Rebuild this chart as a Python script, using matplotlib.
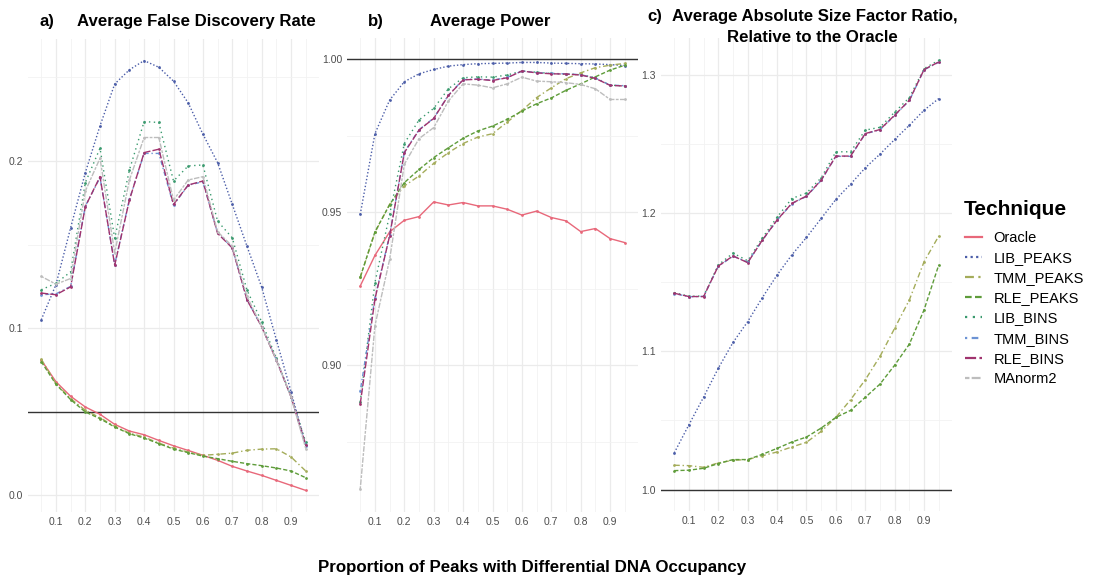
import matplotlib
matplotlib.use("Agg")
import matplotlib.pyplot as plt
from matplotlib.lines import Line2D
from matplotlib.ticker import MultipleLocator

plt.rcParams['font.family'] = ['Liberation Sans', 'DejaVu Sans']

# x values: proportion of peaks with differential occupancy
proportion = [0.05, 0.10, 0.15, 0.20, 0.25, 0.30, 0.35, 0.40, 0.45, 0.50,
              0.55, 0.60, 0.65, 0.70, 0.75, 0.80, 0.85, 0.90, 0.95]

techniques = ['Oracle', 'LIB_PEAKS', 'TMM_PEAKS', 'RLE_PEAKS',
              'LIB_BINS', 'TMM_BINS', 'RLE_BINS', 'MAnorm2']

# a) average false discovery rate
fdr_oracle = [0.081, 0.068, 0.0593, 0.0529, 0.0485, 0.0425, 0.0385, 0.0363, 0.0329, 0.0297,
              0.0269, 0.024, 0.021, 0.0174, 0.0146, 0.012, 0.009, 0.006, 0.003]
fdr_lib_peaks = [0.105, 0.126, 0.160, 0.193, 0.221, 0.246, 0.2545, 0.260, 0.256, 0.2477,
                 0.2347, 0.216, 0.199, 0.174, 0.149, 0.1245, 0.093, 0.062, 0.030]
fdr_tmm_peaks = [0.0815, 0.0669, 0.0579, 0.0509, 0.0465, 0.0413, 0.0373, 0.0349, 0.0313, 0.0283,
                 0.0259, 0.024, 0.0246, 0.0253, 0.027, 0.0277, 0.0279, 0.023, 0.0146]
fdr_rle_peaks = [0.080, 0.0665, 0.0573, 0.0499, 0.0459, 0.0409, 0.0369, 0.0343, 0.031, 0.0277,
                 0.0256, 0.0235, 0.022, 0.0204, 0.019, 0.0178, 0.0164, 0.0146, 0.0106]
fdr_lib_bins = [0.123, 0.1268, 0.1337, 0.187, 0.2076, 0.1537, 0.1946, 0.2235, 0.223, 0.188,
                0.197, 0.1976, 0.164, 0.154, 0.1228, 0.1038, 0.082, 0.0589, 0.0319]
fdr_tmm_bins = [0.120, 0.1205, 0.125, 0.173, 0.190, 0.138, 0.177, 0.2045, 0.2045, 0.1735,
                0.1855, 0.1875, 0.157, 0.148, 0.117, 0.101, 0.081, 0.059, 0.0295]
fdr_rle_bins = [0.121, 0.120, 0.1247, 0.1727, 0.1906, 0.1377, 0.1766, 0.205, 0.207, 0.174,
                0.1856, 0.188, 0.1567, 0.148, 0.117, 0.1008, 0.0808, 0.0589, 0.030]
fdr_manorm2 = [0.131, 0.1263, 0.1297, 0.182, 0.2016, 0.145, 0.1886, 0.214, 0.214, 0.1766,
               0.1886, 0.1906, 0.1577, 0.149, 0.119, 0.101, 0.081, 0.059, 0.028]

# b) average power
pow_oracle = [0.9259, 0.9359, 0.9436, 0.9474, 0.9486, 0.9534, 0.9524, 0.9532, 0.9521, 0.9521,
              0.951, 0.9491, 0.9504, 0.9483, 0.9472, 0.9437, 0.9447, 0.9414, 0.9401]
pow_lib_peaks = [0.9493, 0.9757, 0.9867, 0.9927, 0.9953, 0.9967, 0.9978, 0.9983, 0.9986, 0.9987,
                 0.9988, 0.999, 0.999, 0.9988, 0.9987, 0.9986, 0.9985, 0.9983, 0.998]
pow_tmm_peaks = [0.9287, 0.9434, 0.9526, 0.9586, 0.9619, 0.966, 0.9695, 0.9725, 0.9746, 0.9757,
                 0.9795, 0.9833, 0.9875, 0.9907, 0.9937, 0.9956, 0.9973, 0.9981, 0.9987]
pow_rle_peaks = [0.9288, 0.9436, 0.9525, 0.9597, 0.964, 0.9679, 0.9711, 0.9742, 0.9766, 0.9782,
                 0.9804, 0.9831, 0.9855, 0.9874, 0.9899, 0.992, 0.9943, 0.9965, 0.9981]
pow_lib_bins = [0.888, 0.927, 0.9493, 0.9725, 0.9802, 0.984, 0.9904, 0.994, 0.9943, 0.9942,
                0.9949, 0.9962, 0.9958, 0.9954, 0.9952, 0.995, 0.994, 0.9916, 0.9913]
pow_tmm_bins = [0.8915, 0.922, 0.9425, 0.9697, 0.977, 0.9808, 0.9883, 0.9934, 0.9936, 0.9932,
                0.9941, 0.9962, 0.9957, 0.9954, 0.9953, 0.995, 0.9939, 0.9916, 0.9914]
pow_rle_bins = [0.8873, 0.9216, 0.9423, 0.9695, 0.9769, 0.9807, 0.9882, 0.9933, 0.9935, 0.9931,
                0.994, 0.9962, 0.9956, 0.9953, 0.9952, 0.9949, 0.9938, 0.9915, 0.9913]
pow_manorm2 = [0.8595, 0.9129, 0.9346, 0.9657, 0.9741, 0.9777, 0.9864, 0.992, 0.9916, 0.9907,
               0.992, 0.9942, 0.9929, 0.9927, 0.9924, 0.9918, 0.9904, 0.9869, 0.9869]

# c) size factor ratio relative to the oracle (no Oracle / MAnorm2 here)
sf_lib_peaks = [1.0265, 1.0469, 1.0669, 1.0878, 1.1064, 1.1215, 1.1389, 1.1552, 1.1697, 1.1824,
                1.1961, 1.2099, 1.2209, 1.2327, 1.2426, 1.2532, 1.2635, 1.2744, 1.2828]
sf_tmm_peaks = [1.0176, 1.0173, 1.0161, 1.0193, 1.0212, 1.0217, 1.0245, 1.0272, 1.0308, 1.0342,
                1.0421, 1.0522, 1.065, 1.0794, 1.0963, 1.1167, 1.1372, 1.1648, 1.1834]
sf_rle_peaks = [1.0137, 1.014, 1.0154, 1.0188, 1.0217, 1.0217, 1.0255, 1.0298, 1.0344, 1.038,
                1.0445, 1.0522, 1.0573, 1.0667, 1.0763, 1.09, 1.1052, 1.13, 1.1625]
sf_lib_bins = [1.1425, 1.1398, 1.14, 1.1625, 1.171, 1.1655, 1.182, 1.197, 1.2105, 1.2145,
               1.2255, 1.2443, 1.2443, 1.26, 1.262, 1.273, 1.2835, 1.3045, 1.3105]
sf_tmm_bins = [1.1418, 1.1395, 1.1397, 1.1615, 1.1688, 1.1645, 1.1803, 1.1948, 1.2068, 1.212,
               1.2236, 1.241, 1.241, 1.2573, 1.2602, 1.2706, 1.2814, 1.3036, 1.3091]
sf_rle_bins = [1.142, 1.1396, 1.1396, 1.1617, 1.169, 1.1641, 1.1805, 1.195, 1.207, 1.2123,
               1.2238, 1.2412, 1.2412, 1.2575, 1.2604, 1.2708, 1.2816, 1.3038, 1.3093]

fdr = [fdr_oracle, fdr_lib_peaks, fdr_tmm_peaks, fdr_rle_peaks,
       fdr_lib_bins, fdr_tmm_bins, fdr_rle_bins, fdr_manorm2]
power = [pow_oracle, pow_lib_peaks, pow_tmm_peaks, pow_rle_peaks,
         pow_lib_bins, pow_tmm_bins, pow_rle_bins, pow_manorm2]
sizefac = [None, sf_lib_peaks, sf_tmm_peaks, sf_rle_peaks,
           sf_lib_bins, sf_tmm_bins, sf_rle_bins, None]

# colours and line types per technique
colors = ['#e8687a', '#4b5da8', '#a4ac5a', '#5e9c3a',
          '#3a9a6e', '#6c93d4', '#a0336e', '#bdbdbd']
styles = ['-', (0, (1, 1.5)), (0, (4, 2, 1, 2)), (0, (3, 1.5)),
          (0, (1, 2.5)), (0, (1, 2, 3, 2)), (0, (5, 1.5)), (0, (2, 1, 4, 1))]

W, H = 1094, 577
fig = plt.figure(figsize=(W / 100, H / 100), dpi=100)


def px(x):
    return x / W


def py(y):
    return 1 - y / H


def make_ax(left, right, top, bottom):
    return fig.add_axes([px(left), py(bottom), px(right - left), (bottom - top) / H])


ax_a = make_ax(28, 319, 39, 512)
ax_b = make_ax(347, 638, 38, 512)
ax_c = make_ax(661, 952, 38, 511)

panels = [(ax_a, fdr, (-0.0099, 0.2729), 0.1, '%.1f'),
          (ax_b, power, (0.852, 1.007), 0.05, '%.2f'),
          (ax_c, sizefac, (0.9845, 1.3266), 0.1, '%.1f')]

for ax, series, ylim, major, fmt in panels:
    for name, vals, col, ls in zip(techniques, series, colors, styles):
        if vals is None:
            continue
        ax.plot(proportion, vals, color=col, linestyle=ls, linewidth=1.0,
                marker='o', markersize=2.0, markeredgewidth=0)
    ax.set_xlim(0.005, 0.995)
    ax.set_ylim(*ylim)
    ax.xaxis.set_major_locator(MultipleLocator(0.1))
    ax.xaxis.set_minor_locator(MultipleLocator(0.05))
    ax.yaxis.set_major_locator(MultipleLocator(major))
    ax.yaxis.set_minor_locator(MultipleLocator(major / 2))
    ax.yaxis.set_major_formatter(plt.FormatStrFormatter(fmt))
    ax.xaxis.set_major_formatter(plt.FormatStrFormatter('%.1f'))
    ax.grid(True, which='major', color='#ebebeb', linewidth=0.9)
    ax.grid(True, which='minor', color='#f2f2f2', linewidth=0.6)
    ax.set_axisbelow(True)
    for s in ax.spines.values():
        s.set_visible(False)
    ax.tick_params(which='both', length=0, labelsize=7.5, labelcolor='#4d4d4d', pad=3.5)
    ax.set_xticks([0.1, 0.2, 0.3, 0.4, 0.5, 0.6, 0.7, 0.8, 0.9])

# reference lines
ax_a.axhline(0.05, color='#333333', linewidth=1.0, zorder=1)
ax_b.axhline(1.0, color='#333333', linewidth=1.0, zorder=1)
ax_c.axhline(1.0, color='#333333', linewidth=1.0, zorder=1)
ax_b.set_yticks([0.90, 0.95, 1.00])
ax_c.set_yticks([1.0, 1.1, 1.2, 1.3])

# panel titles
tkw = dict(fontsize=12.1, fontweight='bold', va='baseline')
fig.text(px(40), py(26), 'a)', **tkw)
fig.text(px(77), py(26), 'Average False Discovery Rate', **tkw)
fig.text(px(368), py(26), 'b)', **tkw)
fig.text(px(430), py(26), 'Average Power', **tkw)
fig.text(px(647), py(21), 'c)', **tkw)
fig.text(px(672), py(21), 'Average Absolute Size Factor Ratio,', **tkw)
fig.text(px(812), py(42), 'Relative to the Oracle', ha='center', **tkw)

# shared x label
fig.text(px(532), py(572), 'Proportion of Peaks with Differential DNA Occupancy',
         ha='center', va='baseline', fontsize=12.2, fontweight='bold')

# legend (title drawn separately so the gap under it can be set)
fig.text(px(964), py(215), 'Technique', fontsize=15, fontweight='bold', va='baseline')
handles = [Line2D([], [], color=c, linestyle=ls, linewidth=1.6) for c, ls in zip(colors, styles)]
leg = fig.legend(handles, techniques, loc='upper left', bbox_to_anchor=(px(965), py(231)),
                 frameon=False, fontsize=10.5,
                 handlelength=1.15, handletextpad=0.8, labelspacing=0.42,
                 borderpad=0, borderaxespad=0)

fig.savefig('out.png', dpi=100)
